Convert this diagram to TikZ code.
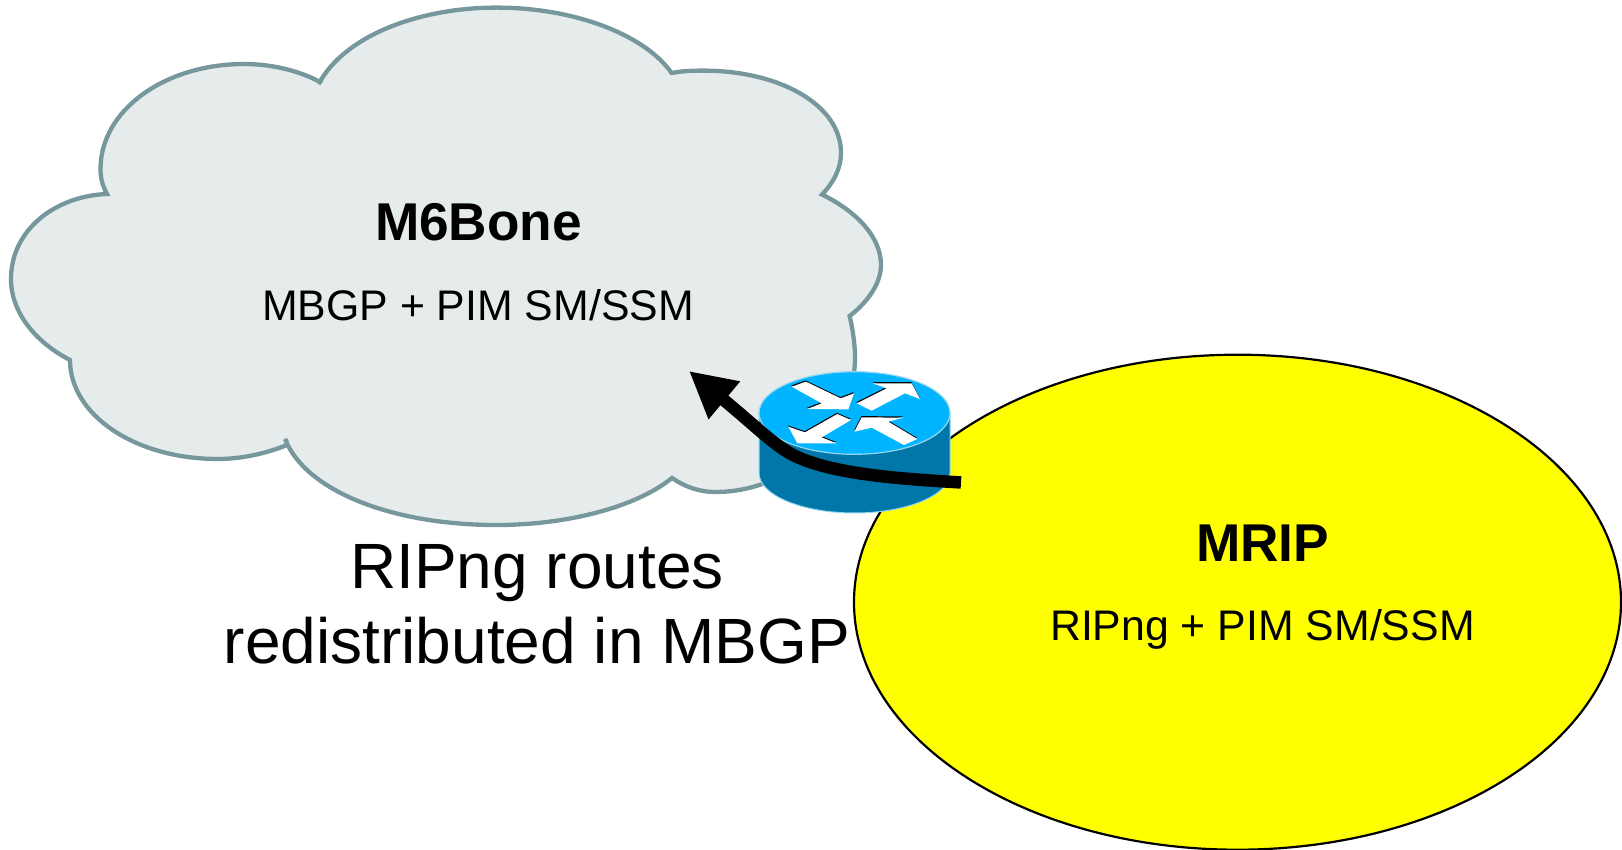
\documentclass[tikz,border=0pt]{standalone}
\usepackage{fontspec}
\setmainfont{Liberation Sans}
\usetikzlibrary{arrows.meta,shapes.geometric}
\definecolor{cloudfill}{RGB}{230,236,236}
\definecolor{cloudline}{RGB}{118,152,156}
\definecolor{routertop}{RGB}{0,180,255}
\definecolor{routerside}{RGB}{0,119,168}
\definecolor{routeredge}{RGB}{150,215,240}
\definecolor{mripfill}{RGB}{255,255,0}
\tikzset{
  cloudshape/.style={draw=cloudline,fill=cloudfill,line width=4.3pt,line join=miter},
  txt/.style={inner sep=0pt,outer sep=0pt,anchor=base,text=black},
  titletxt/.style={txt,font=\fontsize{53.2}{53.2}\selectfont\bfseries},
  subtxt/.style={txt,font=\fontsize{42.8}{42.8}\selectfont},
  bigtxt/.style={txt,font=\fontsize{64}{64}\selectfont},
  arrowwhite/.style={fill=white},
  arrowblack/.style={fill=black},
  flow/.style={line width=12.5pt,draw=black,-{Triangle[length=46pt,width=46pt]}},
}
\begin{document}
\begin{tikzpicture}[x=1pt,y=-1pt]
\useasboundingbox (0,0) rectangle (1622,850);
% cloud
\path[cloudshape] (318.6,84)
  .. controls (345,35) and (420,7.6) .. (496.6,7.6)
  .. controls (575,7.6) and (645,35) .. (671.6,73)
  .. controls (682,71) and (692,70.6) .. (703,70.6)
  .. controls (780,70.6) and (841,105) .. (841,153)
  .. controls (841,168) and (834,182) .. (822,194.6)
  .. controls (858,212) and (881,238) .. (881,265)
  .. controls (881,283) and (868,302) .. (849.6,316)
  .. controls (853,330) and (855,345) .. (855,358)
  .. controls (855,420) and (800,492) .. (715,492)
  .. controls (700,492) and (685,487) .. (672,478)
  .. controls (635,508) and (565,525) .. (496.6,525)
  .. controls (390,525) and (305,490) .. (285,439)
  .. controls (287,441) and (287,443) .. (287,445)
  .. controls (265,454) and (240,459) .. (218,459)
  .. controls (135,459) and (70,415) .. (70,360)
  .. controls (35,342) and (11,312) .. (11,279)
  .. controls (11,230) and (55,196) .. (107,194)
  .. controls (102,185) and (100.5,177) .. (100.5,169)
  .. controls (100.5,110) and (165,64) .. (244,64)
  .. controls (270,64) and (298,70) .. (320,82)
  -- cycle;
% MRIP ellipse
\node (mrip) [draw=black,fill=mripfill,line width=2.2pt,ellipse,minimum width=767pt,minimum height=495pt,inner sep=0pt] at (1237.5,602.2) {};
% router
\fill[routerside,draw=routeredge,line width=1pt] (759,413) -- (759,473)
  arc[start angle=180,end angle=360,x radius=95.5pt,y radius=40pt] -- (950,413) -- cycle;
\fill[routertop,draw=routeredge,line width=1.2pt] (854.5,413) ellipse[x radius=95.5pt,y radius=41.3pt];
% router arrows (zoom coordinates / 3 + offset)
\begin{scope}[shift={(720,340)},x=0.3333pt,y=-0.3333pt]
  \foreach \st/\dx/\dy in {arrowblack/-0.3/1.2,arrowwhite/0/0}{
    \begin{scope}[xshift={\dx*1pt},yshift={\dy*1pt}]
    \path[\st] (215,140)--(258,125)--(362,175)--(402,160)--(385,208)--(262,207)--(305,190)--cycle;
    \path[\st] (410,190)--(500,145)--(458,130)--(575,130)--(600,177)--(555,160)--(455,212)--cycle;
    \path[\st] (352,222)--(393,240)--(305,292)--(350,310)--(232,310)--(205,260)--(255,277)--cycle;
    \path[\st] (403,275)--(425,232)--(550,233)--(505,245)--(592,297)--(552,315)--(455,263)--cycle;
    \end{scope}
  }
\end{scope}
% labels
\node[titletxt] (t1) at (478.5,241) {M6Bone};
\node[subtxt] (t2) at (478,320.5) {MBGP + PIM SM/SSM};
\node[titletxt] (t3) at (1262.7,561) {MRIP};
\node[subtxt] (t4) at (1262.4,640.3) {RIPng + PIM SM/SSM};
\node[bigtxt] (t5) at (537,588) {RIPng routes};
\node[bigtxt] (t6) at (537,663.5) {redistributed in MBGP};
% connector
\coordinate (from) at (961,482.5);
\coordinate (tip) at (689,371);
\draw[flow] (from) .. controls (905,479) and (835,475) .. (795,456) .. controls (775,446) and (760,430) .. (tip);
\end{tikzpicture}
\end{document}
